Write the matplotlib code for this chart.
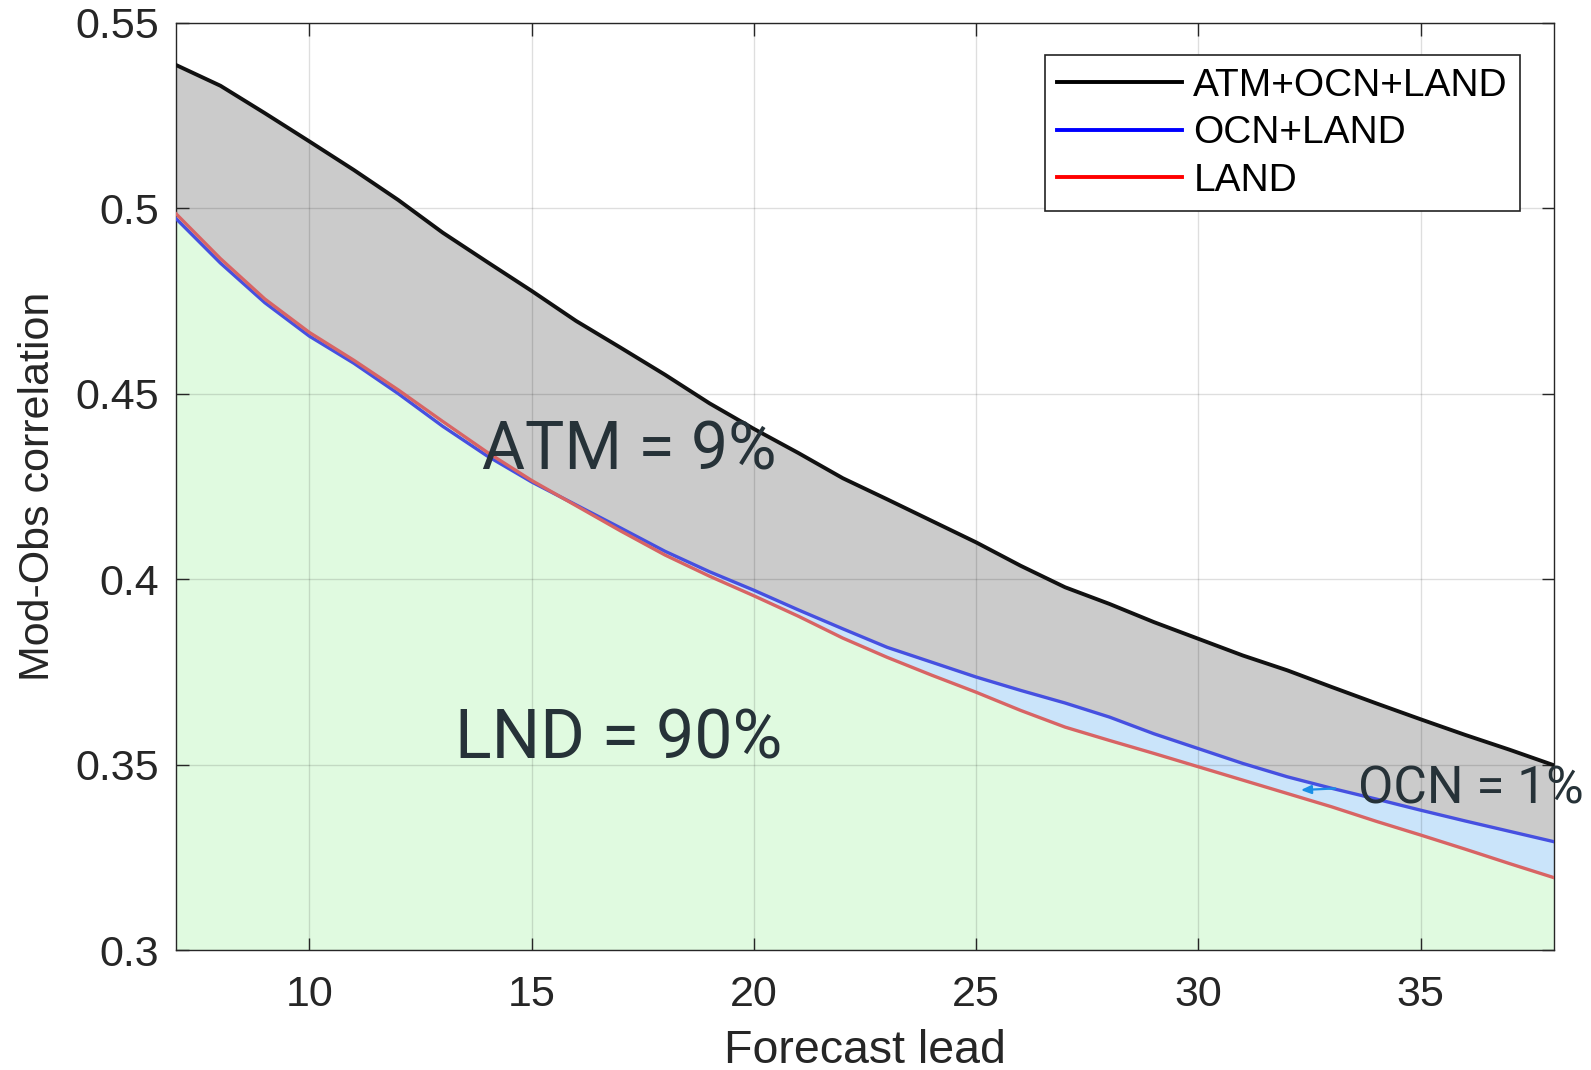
import matplotlib
matplotlib.use("Agg")
import matplotlib.pyplot as plt
import numpy as np

# Data
leads = list(range(7, 39))
atm_ocn_land = [0.5386, 0.5330, 0.5256, 0.5180, 0.5103, 0.5022, 0.4934, 0.4855,
                0.4777, 0.4696, 0.4624, 0.4551, 0.4474, 0.4405, 0.4340, 0.4272,
                0.4215, 0.4157, 0.4099, 0.4036, 0.3978, 0.3933, 0.3884, 0.3839,
                0.3794, 0.3754, 0.3709, 0.3665, 0.3622, 0.3580, 0.3540, 0.3498]
ocn_land = [0.4972, 0.4852, 0.4745, 0.4655, 0.4582, 0.4500, 0.4412, 0.4332,
            0.4262, 0.4200, 0.4138, 0.4075, 0.4020, 0.3970, 0.3917, 0.3866,
            0.3816, 0.3776, 0.3736, 0.3700, 0.3666, 0.3628, 0.3583, 0.3543,
            0.3503, 0.3467, 0.3436, 0.3407, 0.3377, 0.3348, 0.3320, 0.3292]
land = [0.4985, 0.4864, 0.4755, 0.4665, 0.4590, 0.4510, 0.4425, 0.4342,
        0.4266, 0.4198, 0.4130, 0.4065, 0.4008, 0.3955, 0.3900, 0.3841,
        0.3789, 0.3741, 0.3695, 0.3646, 0.3601, 0.3565, 0.3530, 0.3494,
        0.3458, 0.3422, 0.3386, 0.3347, 0.3310, 0.3272, 0.3233, 0.3195]
series_labels = ["ATM+OCN+LAND", "OCN+LAND", "LAND"]
share_labels = ["ATM = 9%", "LND = 90%", "OCN = 1%"]
x_ticks = [10, 15, 20, 25, 30, 35]
y_ticks = [0.3, 0.35, 0.4, 0.45, 0.5, 0.55]
y_tick_labels = ["0.3", "0.35", "0.4", "0.45", "0.5", "0.55"]

plt.rcParams['font.family'] = ['Liberation Sans', 'DejaVu Sans']

fig = plt.figure(figsize=(15.91, 10.70), dpi=100)
ax = fig.add_axes([0.1106, 0.1121, 0.8662, 0.8667])

x = np.array(leads)
base = 0.3

# filled contribution bands
ax.fill_between(x, base, atm_ocn_land, color='#cbcbcb', lw=0, zorder=1)
ax.fill_between(x, base, ocn_land, color='#cae4fa', lw=0, zorder=1)
ax.fill_between(x, base, land, color='#e0fae0', lw=0, zorder=1)

# lines
ax.plot(x, atm_ocn_land, color='#111111', lw=2.8, zorder=3, solid_joinstyle='round')
ax.plot(x, ocn_land, color='#4650e0', lw=2.4, zorder=3, solid_joinstyle='round')
ax.plot(x, land, color='#d86464', lw=2.4, zorder=3, solid_joinstyle='round')

# legend uses pure colours
h1, = ax.plot([], [], color='black', lw=2.8)
h2, = ax.plot([], [], color='#0000ff', lw=2.8)
h3, = ax.plot([], [], color='#ff0000', lw=2.8)
leg = ax.legend([h1, h2, h3], series_labels, loc='upper right',
                bbox_to_anchor=(0.9755, 0.965), borderaxespad=0, fontsize=28,
                handlelength=3.2, handletextpad=0.3, labelspacing=0.3,
                borderpad=0.32, fancybox=False, framealpha=1)
leg.get_frame().set_edgecolor('#222222')
leg.get_frame().set_linewidth(1.2)

ax.set_xlim(7, 38)
ax.set_ylim(0.3, 0.55)
ax.set_xticks(x_ticks)
ax.set_yticks(y_ticks)
ax.set_yticklabels(y_tick_labels)
ax.tick_params(direction='in', length=9, width=1, top=True, right=True,
               labelsize=31, colors='#262626')
ax.tick_params(axis='x', pad=18)
ax.tick_params(axis='y', pad=12)
for sp in ax.spines.values():
    sp.set_color('#262626')
    sp.set_linewidth(1.0)

ax.set_axisbelow('line')
ax.grid(True, color='black', alpha=0.13, lw=1.0)

ax.set_xlabel("Forecast lead", fontsize=33.5, color='#262626')
ax.set_ylabel("Mod-Obs correlation", fontsize=31, color='#262626')
ax.xaxis.set_label_coords(0.5, -0.109)
ax.xaxis.label.set_va('center')
ax.yaxis.set_label_coords(-0.100, 0.5)
ax.yaxis.label.set_va('center')

# share annotations
txt_color = '#263238'
ax.text(13.88, 0.4296, share_labels[0], fontsize=47.5, color=txt_color,
        family=['Roboto', 'DejaVu Sans'], ha='left', va='baseline', zorder=4)
ax.text(13.28, 0.3517, share_labels[1], fontsize=49, color=txt_color,
        family=['Roboto', 'DejaVu Sans'], ha='left', va='baseline', zorder=4)
ax.text(33.59, 0.3396, share_labels[2], fontsize=37, color=txt_color,
        family=['Roboto', 'DejaVu Sans'], ha='left', va='baseline', zorder=4,
        clip_on=False)
ax.annotate('', xy=(32.24, 0.3431), xytext=(33.14, 0.3436),
            arrowprops=dict(arrowstyle='-|>,head_width=0.25,head_length=0.6',
                            color='#1a8fe6', lw=1.6), zorder=4)

fig.savefig('out.png', dpi=100, facecolor='white')
